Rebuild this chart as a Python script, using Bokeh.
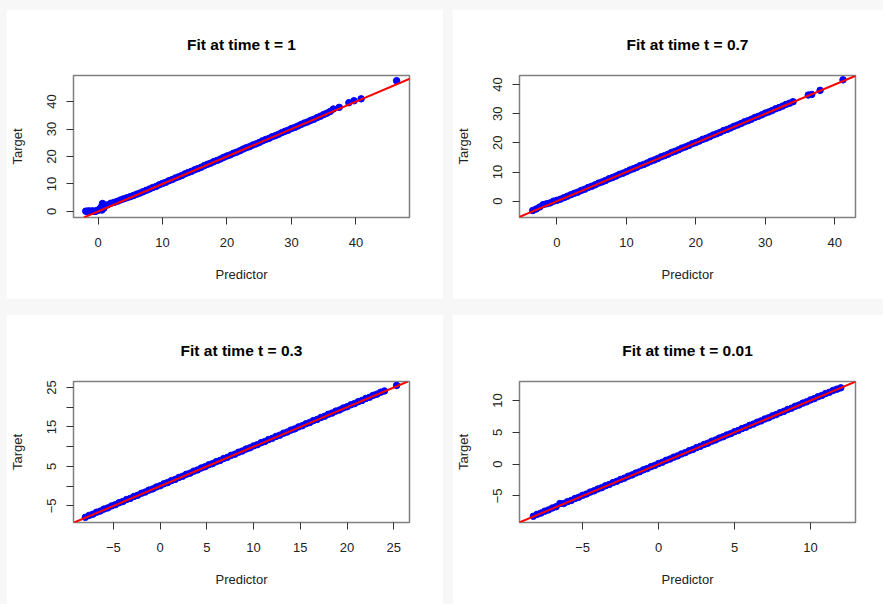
from bokeh.plotting import figure
from bokeh.models import Range1d, FixedTicker, Slope, Spacer
from bokeh.layouts import row, column
from bokeh.embed import file_html
from bokeh.resources import INLINE

# ---------------- data ----------------
titles = ["Fit at time t = 1", "Fit at time t = 0.7", "Fit at time t = 0.3", "Fit at time t = 0.01"]

p1_x = [-1.9, -1.7, -1.5, -1.3, -1.1, -0.9, -0.7, -0.5, -0.3, -0.1, 0.1, 0.3, 0.5, 0.7, 0.8, 0.6, 0.9,
        1.0, 1.5, 2.0, 2.5, 3.0, 3.5, 4.0, 4.5, 5.0, 5.5, 6.0, 6.5, 7.0, 7.5, 8.0, 8.5, 9.0, 9.5,
        10.0, 10.5, 11.0, 11.5, 12.0, 12.5, 13.0, 13.5, 14.0, 14.5, 15.0, 15.5, 16.0, 16.5, 17.0, 17.5,
        18.0, 18.5, 19.0, 19.5, 20.0, 20.5, 21.0, 21.5, 22.0, 22.5, 23.0, 23.5, 24.0, 24.5, 25.0, 25.5,
        26.0, 26.5, 27.0, 27.5, 28.0, 28.5, 29.0, 29.5, 30.0, 30.5, 31.0, 31.5, 32.0, 32.5, 33.0, 33.5,
        34.0, 34.5, 35.0, 35.5, 36.0,
        36.5, 37.4, 38.9, 39.7, 40.8, 46.3]
p1_y = [0.1, 0.0, 0.2, 0.1, 0.0, 0.2, 0.1, 0.0, 0.2, 0.3, 0.6, 1.0, 1.6, 2.9, 2.4, 0.5, 1.2,
        2.1, 2.4, 3.0, 3.3, 3.7, 4.2, 4.6, 5.0, 5.4, 5.8, 6.3, 6.7, 7.2, 7.7, 8.2, 8.7, 9.1, 9.7,
        10.2, 10.6, 11.2, 11.6, 12.2, 12.6, 13.1, 13.7, 14.2, 14.6, 15.2, 15.6, 16.1, 16.7, 17.2, 17.6,
        18.2, 18.6, 19.1, 19.7, 20.2, 20.6, 21.2, 21.6, 22.1, 22.7, 23.2, 23.6, 24.2, 24.6, 25.1, 25.7,
        26.2, 26.6, 27.2, 27.6, 28.1, 28.7, 29.2, 29.6, 30.2, 30.6, 31.1, 31.7, 32.2, 32.6, 33.2, 33.6,
        34.2, 34.7, 35.3, 35.8, 36.4,
        37.3, 37.9, 39.6, 40.3, 41.0, 47.6]

p2_x = [-3.5, -3.0, -2.5, -2.0, -1.5, -1.0, -0.5, 0.0, 0.5, 1.0, 1.5, 2.0, 2.5, 3.0, 3.5, 4.0, 4.5,
        5.0, 5.5, 6.0, 6.5, 7.0, 7.5, 8.0, 8.5, 9.0, 9.5, 10.0, 10.5, 11.0, 11.5, 12.0, 12.5, 13.0,
        13.5, 14.0, 14.5, 15.0, 15.5, 16.0, 16.5, 17.0, 17.5, 18.0, 18.5, 19.0, 19.5, 20.0, 20.5,
        21.0, 21.5, 22.0, 22.5, 23.0, 23.5, 24.0, 24.5, 25.0, 25.5, 26.0, 26.5, 27.0, 27.5, 28.0,
        28.5, 29.0, 29.5, 30.0, 30.5, 31.0, 31.5, 32.0, 32.5, 33.0, 33.5, 34.0,
        36.2, 36.7, 37.9, 41.2]
p2_y = [-3.2, -2.7, -2.0, -1.2, -0.9, -0.6, 0.0, 0.3, 0.7, 1.2, 1.7, 2.2, 2.7, 3.1, 3.7, 4.1, 4.7,
        5.1, 5.6, 6.2, 6.6, 7.1, 7.7, 8.1, 8.6, 9.2, 9.6, 10.1, 10.7, 11.1, 11.6, 12.2, 12.6, 13.1,
        13.7, 14.1, 14.6, 15.2, 15.6, 16.1, 16.7, 17.1, 17.6, 18.2, 18.6, 19.1, 19.7, 20.1, 20.6,
        21.2, 21.6, 22.1, 22.7, 23.1, 23.6, 24.2, 24.6, 25.1, 25.7, 26.1, 26.6, 27.2, 27.6, 28.1,
        28.7, 29.1, 29.6, 30.2, 30.6, 31.1, 31.7, 32.1, 32.6, 33.2, 33.6, 34.1,
        36.4, 36.6, 38.0, 41.6]

p3_x = [-8.0, -7.6, -7.2, -6.8, -6.4, -6.0, -5.6, -5.2, -4.8, -4.4, -4.0, -3.6, -3.2, -2.8, -2.4,
        -2.0, -1.6, -1.2, -0.8, -0.4, 0.0, 0.4, 0.8, 1.2, 1.6, 2.0, 2.4, 2.8, 3.2, 3.6, 4.0, 4.4,
        4.8, 5.2, 5.6, 6.0, 6.4, 6.8, 7.2, 7.6, 8.0, 8.4, 8.8, 9.2, 9.6, 10.0, 10.4, 10.8, 11.2,
        11.6, 12.0, 12.4, 12.8, 13.2, 13.6, 14.0, 14.4, 14.8, 15.2, 15.6, 16.0, 16.4, 16.8, 17.2,
        17.6, 18.0, 18.4, 18.8, 19.2, 19.6, 20.0, 20.4, 20.8, 21.2, 21.6, 22.0, 22.4, 22.8, 23.2,
        23.6, 24.0,
        25.3]
p3_y = [-7.9, -7.4, -7.1, -6.6, -6.3, -5.8, -5.5, -5.0, -4.7, -4.2, -3.9, -3.4, -3.1, -2.6, -2.3,
        -1.8, -1.5, -1.0, -0.7, -0.2, 0.1, 0.6, 0.9, 1.4, 1.7, 2.2, 2.5, 3.0, 3.3, 3.8, 4.1, 4.6,
        4.9, 5.4, 5.7, 6.2, 6.5, 7.0, 7.3, 7.8, 8.1, 8.6, 8.9, 9.4, 9.7, 10.2, 10.5, 11.0, 11.3,
        11.8, 12.1, 12.6, 12.9, 13.4, 13.7, 14.2, 14.5, 15.0, 15.3, 15.8, 16.1, 16.6, 16.9, 17.4,
        17.7, 18.2, 18.5, 19.0, 19.3, 19.8, 20.1, 20.6, 20.9, 21.4, 21.7, 22.2, 22.5, 23.0, 23.3,
        23.8, 24.1,
        25.5]

p4_x = [-8.25, -8.0, -7.75, -7.5, -7.25, -7.0, -6.75, -6.5, -6.25, -6.0, -5.75, -5.5, -5.25, -5.0,
        -4.75, -4.5, -4.25, -4.0, -3.75, -3.5, -3.25, -3.0, -2.75, -2.5, -2.25, -2.0, -1.75, -1.5,
        -1.25, -1.0, -0.75, -0.5, -0.25, 0.0, 0.25, 0.5, 0.75, 1.0, 1.25, 1.5, 1.75, 2.0, 2.25, 2.5,
        2.75, 3.0, 3.25, 3.5, 3.75, 4.0, 4.25, 4.5, 4.75, 5.0, 5.25, 5.5, 5.75, 6.0, 6.25, 6.5, 6.75,
        7.0, 7.25, 7.5, 7.75, 8.0, 8.25, 8.5, 8.75, 9.0, 9.25, 9.5, 9.75, 10.0, 10.25, 10.5, 10.75,
        11.0, 11.25, 11.5, 11.75, 12.0]
p4_y = [-8.2, -7.9, -7.7, -7.4, -7.2, -6.9, -6.7, -6.2, -6.2, -5.9,
        -5.7, -5.4, -5.2, -4.9, -4.7, -4.4, -4.2, -3.9, -3.7, -3.4,
        -3.2, -2.9, -2.7, -2.4, -2.2, -1.9, -1.7, -1.4, -1.2, -0.9,
        -0.7, -0.4, -0.2, 0.1, 0.3, 0.6, 0.8, 1.1, 1.3, 1.6,
        1.8, 2.1, 2.3, 2.6, 2.8, 3.1, 3.3, 3.6, 3.8, 4.1,
        4.3, 4.6, 4.8, 5.1, 5.3, 5.6, 5.8, 6.1, 6.3, 6.6,
        6.8, 7.1, 7.3, 7.6, 7.8, 8.1, 8.3, 8.6, 8.8, 9.1,
        9.3, 9.6, 9.8, 10.1, 10.3, 10.6, 10.8, 11.1, 11.3, 11.6,
        11.8, 12.0]

p1_ticks = [0, 10, 20, 30, 40]
p2_ticks = [0, 10, 20, 30, 40]
p3_ticks = [-5, 0, 5, 10, 15, 20, 25]
p3_hidden_y_labels = [0, 10, 20]
p4_ticks = [-5, 0, 5, 10]

fit_slope = 1.0
fit_intercept = 0.0

for a, b in [(p1_x, p1_y), (p2_x, p2_y), (p3_x, p3_y), (p4_x, p4_y)]:
    assert len(a) == len(b), (len(a), len(b))

FONT = "Liberation Sans"
PAGE_BG = "#f7f7f7"


def make_panel(title, xs, ys, xr, yr, xticks, yticks, w, h, ml, mr, mt, mb, hidden_y=None):
    p = figure(width=w, height=h, x_range=Range1d(*xr), y_range=Range1d(*yr),
               output_backend="svg", toolbar_location=None,
               min_border_left=ml, min_border_right=mr, min_border_top=mt, min_border_bottom=mb)
    p.title.text = title
    p.title.align = "center"
    p.title.text_font = FONT
    p.title.text_font_style = "bold"
    p.title.text_font_size = "15.5px"
    p.title.text_color = "#000000"
    p.title.standoff = 46
    p.grid.visible = False
    p.background_fill_color = "white"
    p.border_fill_color = "white"
    p.outline_line_color = "#808080"
    p.outline_line_width = 1.5
    p.outline_line_alpha = 1.0

    p.scatter(xs, ys, size=6.5, marker="circle", fill_color="#0000ff", line_color="#0000ff")
    p.add_layout(Slope(gradient=fit_slope, y_intercept=fit_intercept, line_color="#ff0000", line_width=2))

    p.xaxis.ticker = FixedTicker(ticks=xticks, minor_ticks=[])
    p.yaxis.ticker = FixedTicker(ticks=yticks, minor_ticks=[])
    if hidden_y:
        p.yaxis.major_label_overrides = {t: "" for t in hidden_y}
    p.xaxis.axis_label = "Predictor"
    p.yaxis.axis_label = "Target"
    p.yaxis.major_label_orientation = "vertical"
    for ax in (p.xaxis[0], p.yaxis[0]):
        ax.axis_line_color = None
        ax.major_tick_line_color = "#333333"
        ax.major_tick_line_width = 1
        ax.major_tick_out = 7
        ax.major_tick_in = 0
        ax.minor_tick_line_color = None
        ax.major_label_text_font = FONT
        ax.major_label_text_font_size = "13px"
        ax.major_label_text_color = "#222222"
        ax.axis_label_text_font = FONT
        ax.axis_label_text_font_size = "13px"
        ax.axis_label_text_font_style = "normal"
        ax.axis_label_text_color = "#222222"
    p.xaxis.major_label_standoff = 13
    p.xaxis.axis_label_standoff = 17
    p.yaxis.major_label_standoff = 10
    p.yaxis.axis_label_standoff = 20
    return p


p1 = make_panel(titles[0], p1_x, p1_y, (-3.8, 48.3), (-2.2, 49.5), p1_ticks, p1_ticks,
                437, 290, 65, 34, 66, 82)
p2 = make_panel(titles[1], p2_x, p2_y, (-5.4, 43.0), (-5.6, 43.1), p2_ticks, p2_ticks,
                431, 290, 66, 28, 66, 82)
p3 = make_panel(titles[2], p3_x, p3_y, (-9.27, 26.68), (-9.2, 26.5), p3_ticks, p3_ticks,
                437, 290, 66, 34, 67, 82, hidden_y=p3_hidden_y_labels)
p4 = make_panel(titles[3], p4_x, p4_y, (-9.16, 12.97), (-9.18, 13.0), p4_ticks, p4_ticks,
                431, 290, 66, 28, 67, 82)

top = row(Spacer(width=6, height=290), p1, Spacer(width=9, height=290), p2)
bottom = row(Spacer(width=6, height=290), p3, Spacer(width=9, height=290), p4)
page = column(Spacer(width=883, height=9), top, Spacer(width=883, height=15), bottom)
page.styles = {"background-color": PAGE_BG}

open("out.html", "w").write(file_html(page, INLINE))
